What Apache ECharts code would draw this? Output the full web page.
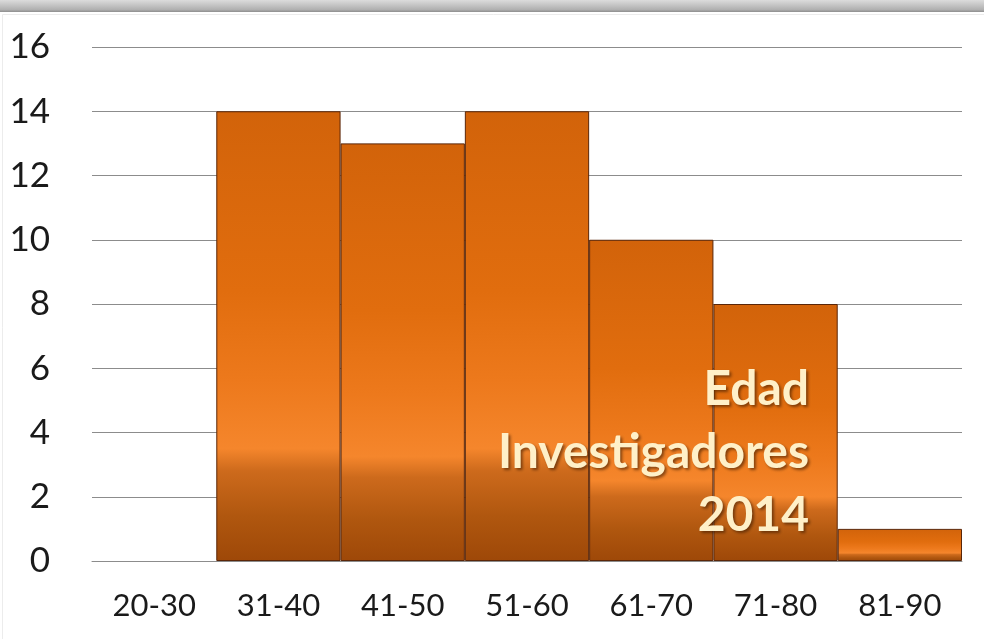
<!DOCTYPE html>
<html>
<head>
<meta charset="utf-8">
<script type="text/javascript" src="https://cdn.jsdelivr.net/npm/echarts@6/dist/echarts.min.js"></script>
<style type="text/css">
	html, body { margin: 0; padding: 0; background: #ffffff; }
	#main { width: 984px; height: 639px; }
</style>
</head>
<body>
<div id="main"></div>
<script type="text/javascript">
	// datos del grafico
	var categories = ['20-30', '31-40', '41-50', '51-60', '61-70', '71-80', '81-90'];
	var values = [0, 14, 13, 14, 10, 8, 1];
	var yTicks = [0, 2, 4, 6, 8, 10, 12, 14, 16];
	var titleLines = ['Edad', 'Investigadores', '2014'];

	var myChart = echarts.init(document.getElementById('main'));

	var barFill = new echarts.graphic.LinearGradient(0, 0, 0, 1, [
		{ offset: 0, color: '#d2630a' },
		{ offset: 0.4, color: '#e16d0e' },
		{ offset: 0.6, color: '#ed791c' },
		{ offset: 0.75, color: '#f5862c' },
		{ offset: 0.8, color: '#cd6a1c' },
		{ offset: 0.9, color: '#b0570f' },
		{ offset: 1, color: '#9e4808' }
	]);

	// las barras en cero no dibujan borde
	var barData = values.map(function (v) {
		return v === 0 ? { value: v, itemStyle: { borderWidth: 0 } } : v;
	});

	var option = {
		animation: false,
		backgroundColor: '#ffffff',
		grid: {
			left: 92,
			right: 22,
			top: 47,
			bottom: 78
		},
		xAxis: {
			type: 'category',
			data: categories,
			axisLine: { show: true, lineStyle: { color: '#8c8c8c', width: 1 } },
			axisTick: { show: false },
			axisLabel: {
				fontFamily: 'Lato',
				fontSize: 31,
				color: '#1a1a1a',
				margin: 29
			}
		},
		yAxis: {
			type: 'value',
			min: yTicks[0],
			max: yTicks[yTicks.length - 1],
			interval: 2,
			axisLine: { show: false },
			axisTick: { show: false },
			splitLine: { lineStyle: { color: '#8c8c8c', width: 1 } },
			axisLabel: {
				fontFamily: 'Lato',
				fontSize: 35,
				color: '#1a1a1a',
				margin: 42
			}
		},
		series: [
			{
				type: 'bar',
				data: barData,
				barCategoryGap: '0%',
				itemStyle: {
					color: barFill,
					borderColor: '#5a2608',
					borderWidth: 1
				}
			}
		],
		graphic: [
			{
				type: 'rect',
				left: 0,
				top: 0,
				shape: { width: 984, height: 12 },
				style: {
					fill: new echarts.graphic.LinearGradient(0, 0, 0, 1, [
						{ offset: 0, color: '#dcdcdc' },
						{ offset: 0.8, color: '#b0b0b0' },
						{ offset: 1, color: '#8e8e8e' }
					])
				},
				z: 10
			},
			{
				type: 'rect',
				left: 0,
				top: 12,
				shape: { width: 983, height: 626 },
				style: { fill: 'none', stroke: '#ececec', lineWidth: 1 },
				z: 10
			},
			{
				type: 'text',
				x: 809,
				y: 358,
				z: 20,
				style: {
					text: titleLines.join('\n'),
					align: 'right',
					verticalAlign: 'top',
					fontFamily: 'Lato',
					fontWeight: 'bold',
					fontSize: 48,
					lineHeight: 63,
					fill: '#fff0c8',
					textShadowColor: 'rgba(60,25,0,0.6)',
					textShadowBlur: 3,
					textShadowOffsetX: 2,
					textShadowOffsetY: 2
				}
			}
		]
	};

	myChart.setOption(option);
</script>
</body>
</html>
